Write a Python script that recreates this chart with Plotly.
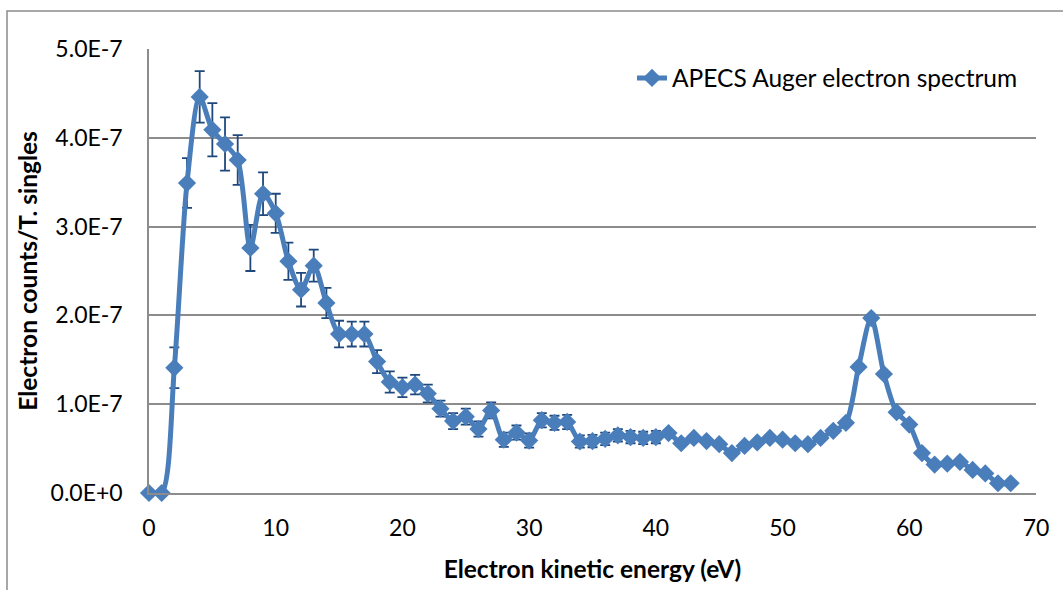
import plotly.graph_objects as go

# ---- data (values in units of 1E-7) ----
energy_ev = list(range(0, 69))
counts_e7 = [0.00, 0.00, 1.41, 3.49, 4.46, 4.09, 3.93, 3.75, 2.76, 3.37,
             3.15, 2.61, 2.29, 2.56, 2.14, 1.79, 1.79, 1.79, 1.48, 1.25,
             1.19, 1.22, 1.12, 0.95, 0.81, 0.86, 0.72, 0.93, 0.60, 0.68,
             0.59, 0.82, 0.79, 0.80, 0.58, 0.585, 0.61, 0.65, 0.63, 0.62,
             0.63, 0.675, 0.56, 0.62, 0.585, 0.55, 0.45, 0.53, 0.57, 0.62,
             0.60, 0.56, 0.55, 0.62, 0.70, 0.79, 1.42, 1.97, 1.34, 0.91,
             0.77, 0.45, 0.32, 0.33, 0.35, 0.26, 0.22, 0.11, 0.11]
errors_e7 = [None, None, 0.23, 0.28, 0.29, 0.30, 0.30, 0.28, 0.26, 0.24,
             0.22, 0.21, 0.19, 0.18, 0.17, 0.15, 0.14, 0.14, 0.13, 0.12,
             0.11, 0.11, 0.10, 0.09, 0.09, 0.09, 0.085, 0.09, 0.08, 0.08,
             0.08, 0.08, 0.08, 0.08, 0.07, 0.07, 0.07, 0.07, 0.07, 0.07,
             0.07] + [None] * 28
y_tick_vals_e7 = [0, 1, 2, 3, 4, 5]
y_tick_text = ["0.0E+0", "1.0E-7", "2.0E-7", "3.0E-7", "4.0E-7", "5.0E-7"]
x_tick_vals = [0, 10, 20, 30, 40, 50, 60, 70]

series_name = "APECS Auger electron spectrum"
x_title = "Electron kinetic energy (eV)"
y_title = "Electron counts/T. singles"

scale = 1e-7
y_vals = [v * scale for v in counts_e7]
err_vals = [None if e is None else e * scale for e in errors_e7]
y_ticks = [v * scale for v in y_tick_vals_e7]

FONT = "Lato"
BLUE = "#4A7EBB"
GRID = "#8C8C8C"

fig = go.Figure()
fig.add_trace(go.Scatter(
    x=energy_ev, y=y_vals, name=series_name,
    mode="lines+markers", cliponaxis=False,
    line=dict(color=BLUE, width=5, shape="spline", smoothing=0.8),
    marker=dict(symbol="diamond", size=14, color=BLUE),
    error_y=dict(type="data", array=err_vals, visible=True,
                 color="#1F497D", thickness=1.8, width=5),
))

W, H = 1063, 590
L, R, T, B = 149, 1036, 49, 493
pw, ph = R - L, B - T

def px(xp):
    return (xp - L) / pw

def py(yp):
    return (B - yp) / ph

# outer chart-area border (extends past the picture on right/bottom)
fig.add_shape(type="rect", xref="paper", yref="paper",
              x0=px(7), x1=px(1075), y0=py(600), y1=py(11),
              line=dict(color="#8C8C8C", width=1.5), layer="below")

fig.update_layout(
    width=W, height=H,
    margin=dict(l=L, r=W - R, t=T, b=H - B),
    paper_bgcolor="white", plot_bgcolor="white",
    font=dict(family=FONT, color="black", size=23),
    showlegend=True,
    legend=dict(x=px(632), y=py(78), xanchor="left", yanchor="middle",
                bgcolor="rgba(0,0,0,0)", font=dict(size=24.5, family=FONT)),
    xaxis=dict(range=[0, 70], tickvals=x_tick_vals, showgrid=False,
               showline=True, linecolor=GRID, linewidth=1.5,
               zeroline=False, ticks="", ticklabelstandoff=14,
               title=dict(text=x_title, standoff=21,
                          font=dict(size=24.5, family=FONT, weight="bold"))),
    yaxis=dict(range=[0, 5e-7], tickvals=y_ticks, ticktext=y_tick_text,
               showgrid=True, gridcolor=GRID, gridwidth=1.5,
               showline=True, linecolor=GRID, linewidth=1.5,
               zeroline=False, ticks="", ticklabelstandoff=20,
               title=dict(text=y_title, standoff=6,
                          font=dict(size=24.5, family=FONT, weight="bold"))),
)

fig.write_html("out.html")
